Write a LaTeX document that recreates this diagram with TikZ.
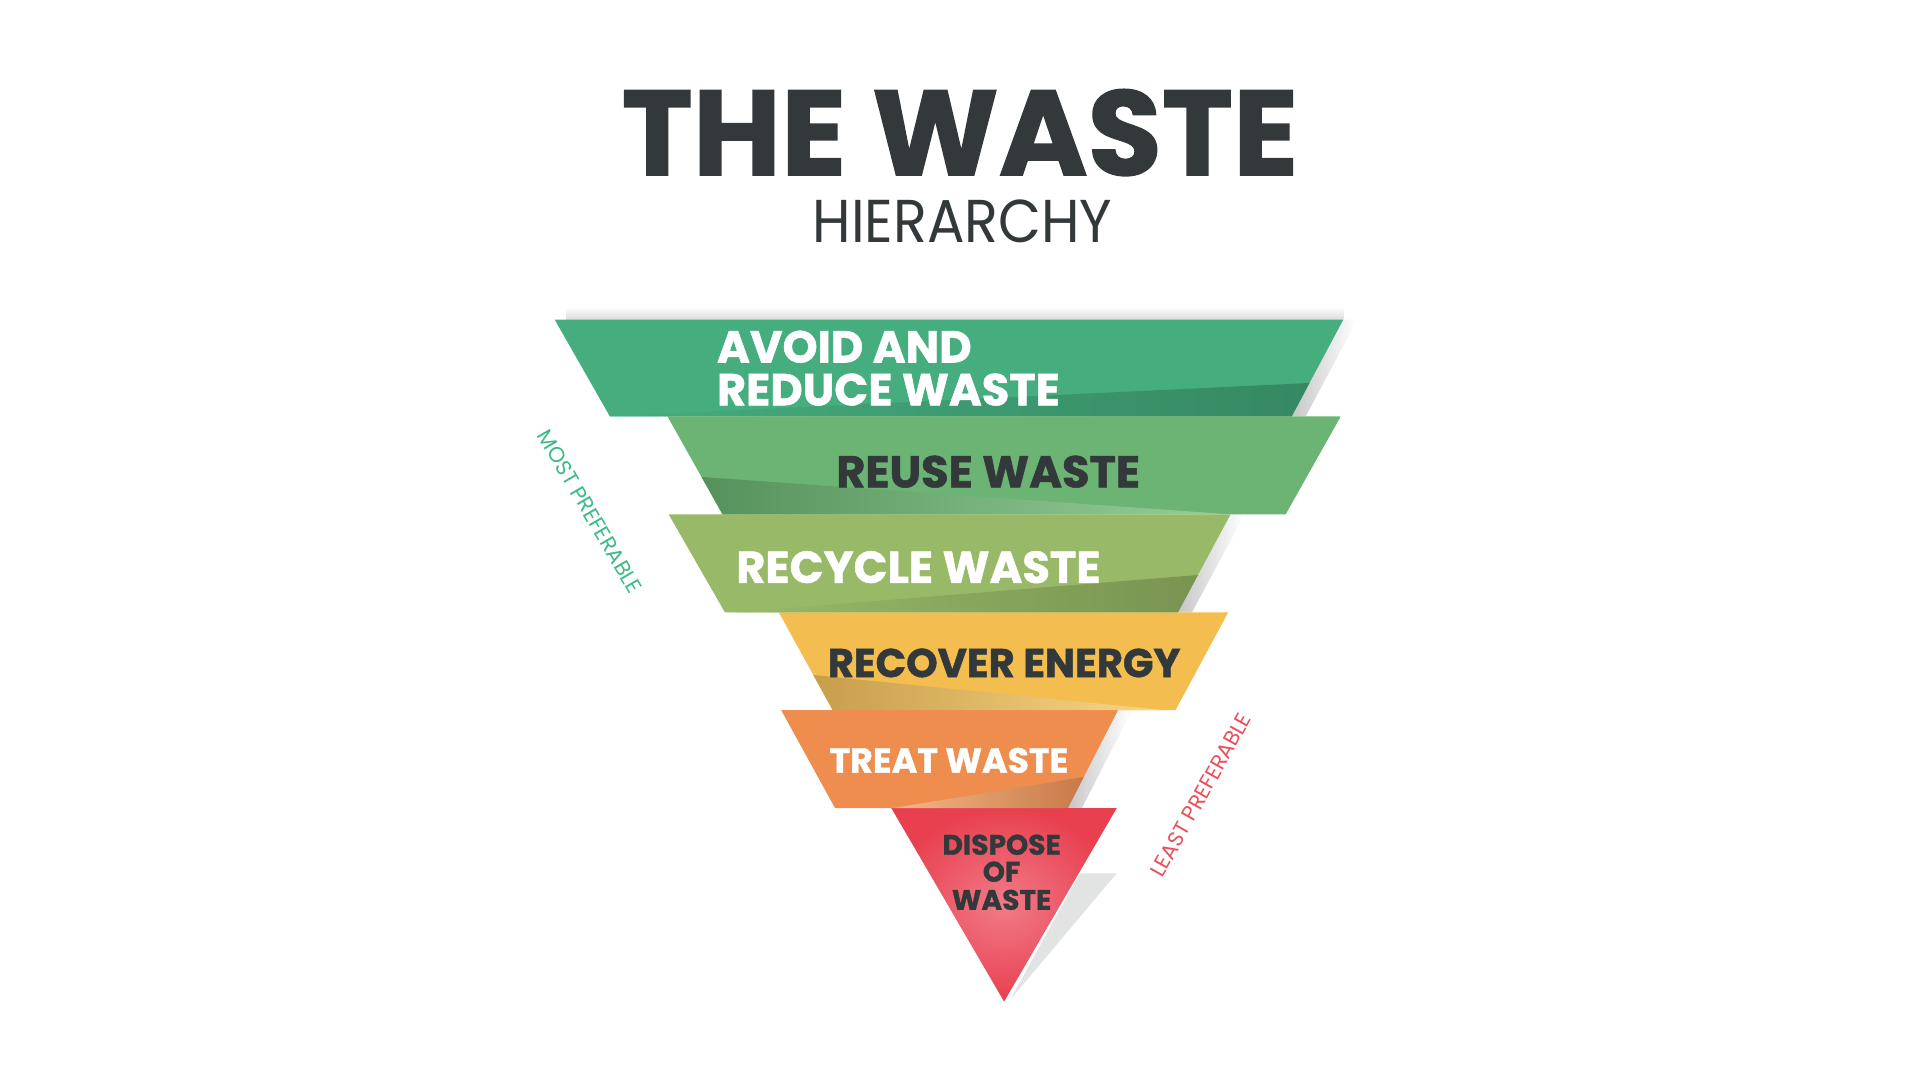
\documentclass[tikz,border=0pt]{standalone}
\usepackage{fontspec}
\setmainfont{Poppins}
\newfontfamily\heavyfont{Poppins}[BoldFeatures={FakeBold=1.2}]
\definecolor{ink}{HTML}{33393B}
\definecolor{gA}{HTML}{45AD7E}
\definecolor{gAl}{HTML}{78CBA5}
\definecolor{gAd}{HTML}{358560}
\definecolor{gB}{HTML}{6BB473}
\definecolor{gBl}{HTML}{9CD29C}
\definecolor{gBd}{HTML}{548E5A}
\definecolor{gC}{HTML}{98BA68}
\definecolor{gCl}{HTML}{BDD898}
\definecolor{gCd}{HTML}{76914F}
\definecolor{yD}{HTML}{F3BD50}
\definecolor{yDl}{HTML}{FADA8C}
\definecolor{yDd}{HTML}{C39B4A}
\definecolor{oE}{HTML}{EF8D4E}
\definecolor{oEl}{HTML}{F7BC8C}
\definecolor{oEd}{HTML}{C3784A}
\definecolor{rF}{HTML}{E8404F}
\definecolor{rFl}{HTML}{F27A88}
\definecolor{mostc}{HTML}{3DBA85}
\definecolor{leastc}{HTML}{E8505B}
\definecolor{shadowc}{HTML}{E2E4E4}

\begin{document}
\begin{tikzpicture}[x=0.01cm,y=-0.01cm,
  lbl/.style={font=\heavyfont\bfseries\fontsize{12.7}{13}\selectfont, inner sep=0pt, anchor=base},
  side/.style={font=\fontsize{6.1}{7}\selectfont, inner sep=0pt},
  drop/.style={left color=black!22, right color=white}]
\useasboundingbox (0,0) rectangle (1920,1080);
\fill[white] (0,0) rectangle (1920,1080);

\coordinate (A1) at (554.7,319.6);
\coordinate (A2) at (1343.3,319.6);
\coordinate (A3) at (1291.8,416.3);
\coordinate (A4) at (609.8,416.3);
\coordinate (B1) at (667.4,416.3);
\coordinate (B2) at (1340.8,416.3);
\coordinate (B3) at (1285.7,514.3);
\coordinate (B4) at (722.5,514.3);
\coordinate (C1) at (668.6,514.3);
\coordinate (C2) at (1230.6,514.3);
\coordinate (C3) at (1178.0,612.3);
\coordinate (C4) at (724.9,612.3);
\coordinate (D1) at (778.8,612.3);
\coordinate (D2) at (1228.2,612.3);
\coordinate (D3) at (1175.5,710.2);
\coordinate (D4) at (832.7,710.2);
\coordinate (E1) at (781.2,710.2);
\coordinate (E2) at (1118.0,710.2);
\coordinate (E3) at (1067.8,808.2);
\coordinate (E4) at (835.1,808.2);
\coordinate (F1) at (891.4,808.2);
\coordinate (F2) at (1116.7,808.2);
\coordinate (F3) at (1004.1,1001.6);

\node[font=\heavyfont\bfseries\fontsize{34.3}{36}\selectfont, text=ink, inner sep=0pt, anchor=base] (title) at (960,175.1) {THE WASTE};
\node[font=\fontsize{17.2}{18}\selectfont, text=ink, inner sep=0pt, anchor=base] (sub) at (962.5,242.5) {\scalebox{0.92}[1]{HIERARCHY}};

\begin{scope}
    \shade[drop] (A2) -- ([shift={(14,0)}]A2) -- ([shift={(14,0)}]A3) -- (A3) -- cycle;
    \shade[drop] (C2) -- ([shift={(14,0)}]C2) -- ([shift={(14,0)}]C3) -- (C3) -- cycle;
    \shade[drop] (E2) -- ([shift={(14,0)}]E2) -- ([shift={(14,0)}]E3) -- (E3) -- cycle;
    \shade[top color=white, bottom color=black!14] (566,307) rectangle (A2);
    \fill[shadowc] (1080,873.3) -- (1116.7,873.3) -- (1010,1000) -- cycle;
\end{scope}

\shade[left color=gA, middle color=gAl, right color=gA] (A1) -- (A2) -- (A3) -- (A4) -- cycle;
\shade[left color=gB, middle color=gBl, right color=gB] (B1) -- (B2) -- (B3) -- (B4) -- cycle;
\shade[left color=gC, middle color=gCl, right color=gC] (C1) -- (C2) -- (C3) -- (C4) -- cycle;
\shade[left color=yD, middle color=yDl, right color=yD] (D1) -- (D2) -- (D3) -- (D4) -- cycle;
\shade[left color=oE, middle color=oEl, right color=oE] (E1) -- (E2) -- (E3) -- (E4) -- cycle;
\shade[inner color=rFl, outer color=rF] (F1) -- (F2) -- (F3) -- cycle;

\shade[left color=gA, right color=gAd, opacity=0.9] (A4) -- (1309.5,383) -- (A3) -- cycle;
\shade[left color=gBd, right color=gBl, opacity=0.9] (701.5,477) -- (B4) -- (1230,514.3) -- cycle;
\shade[left color=gC, right color=gCd, opacity=0.9] (735,612.3) -- (1198,575) -- (C3) -- cycle;
\shade[left color=yDd, right color=yDl, opacity=0.9] (813.3,675) -- (D4) -- (1165,710.2) -- cycle;
\shade[left color=oEl, right color=oEd, opacity=0.9] (892,808.2) -- (1083.8,777) -- (E3) -- cycle;

\node[lbl, text=white, anchor=base west] (avoid) at (716.3,362.5) {AVOID AND};
\node[lbl, text=white, anchor=base west] (reduce) at (716.3,405.3) {REDUCE WASTE};
\node[lbl, text=ink] (reuse) at (988.2,487.4) {REUSE WASTE};
\node[lbl, text=white] (recycle) at (918.4,582.9) {RECYCLE WASTE};
\node[lbl, text=ink, font=\heavyfont\bfseries\fontsize{11.4}{12}\selectfont] (recover) at (1004.1,677.1) {RECOVER ENERGY};
\node[lbl, text=white, font=\heavyfont\bfseries\fontsize{9.9}{10}\selectfont] (treat) at (949,772.7) {TREAT WASTE};
\node[lbl, text=ink, font=\heavyfont\bfseries\fontsize{8}{9}\selectfont] (dispose) at (1001.6,854.7) {DISPOSE};
\node[lbl, text=ink, font=\heavyfont\bfseries\fontsize{8}{9}\selectfont] (of) at (1001.6,881.6) {OF};
\node[lbl, text=ink, font=\heavyfont\bfseries\fontsize{8}{9}\selectfont] (waste) at (1001.6,909.8) {WASTE};

\node[side, text=mostc, rotate=-59.7] (most) at (590,511.7) {MOST PREFERABLE};
\node[side, text=leastc, rotate=60.7] (least) at (1200.8,795) {LEAST PREFERABLE};
\end{tikzpicture}
\end{document}
